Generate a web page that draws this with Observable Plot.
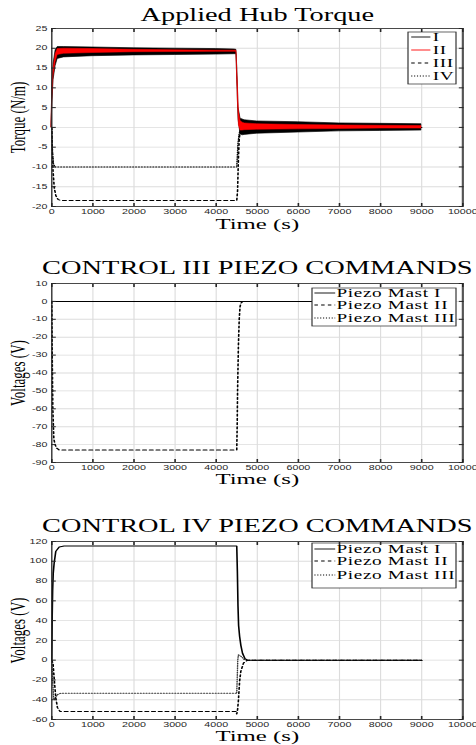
<!DOCTYPE html>
<html>
<head>
<meta charset="utf-8">
<script src="https://cdn.jsdelivr.net/npm/d3@7"></script>
<script src="https://cdn.jsdelivr.net/npm/@observablehq/plot@0.6"></script>
<style>
html,body{margin:0;padding:0;background:#fff;}
#root{position:relative;width:476px;height:745px;overflow:hidden;background:#fff;}
.panel{position:absolute;left:0;transform-origin:0 0;}
</style>
</head>
<body>
<div id="root"></div>
<script>
// ---------------- DATA ----------------
const xDomain = [0, 10000];
const xTicks = [0, 1000, 2000, 3000, 4000, 5000, 6000, 7000, 8000, 9000, 10000];

// Panel 1: Applied Hub Torque
const hubTitle = "Applied Hub Torque";
const hubYLabel = "Torque (N/m)";
const hubYDomain = [-20, 25];
const hubYTicks = [-20, -15, -10, -5, 0, 5, 10, 15, 20, 25];
const hubSeries = ["I", "II", "III", "IV"];
// I : noisy signal, drawn as its envelope (black)
const hubI_t  = [0, 20, 50, 100, 150, 300, 1000, 2000, 3000, 4000, 4450, 4500, 4520, 4550, 4600, 4650, 4700, 5000, 6000, 7000, 8000, 9000];
const hubI_hi = [0, 10, 16, 19.5, 20.3, 20.3, 20.2, 20.0, 19.9, 19.8, 19.7, 19.6, 15, 5, 2.2, 2.0, 1.8, 1.5, 1.3, 1.0, 0.9, 0.8];
const hubI_lo = [0, 6, 12, 15.5, 17.3, 17.7, 18.0, 18.2, 18.3, 18.4, 18.5, 18.5, 12, 2, -1.8, -2.0, -1.9, -1.6, -1.3, -1.0, -0.9, -0.8];
// II : noisy signal, envelope (red)
const hubII_t  = [0, 20, 50, 100, 150, 300, 1000, 2000, 3000, 4000, 4500, 4530, 4560, 4600, 4650, 4700, 5000, 6000, 7000, 8000, 9000];
const hubII_hi = [0, 10, 15, 18.5, 19.8, 19.9, 19.8, 19.6, 19.5, 19.4, 19.4, 12, 4, 1.6, 1.2, 1.0, 0.8, 0.6, 0.5, 0.4, 0.35];
const hubII_lo = [0, 7, 13, 16.5, 18.3, 18.6, 18.8, 19.0, 19.05, 19.1, 19.1, 8, 0.5, -0.8, -0.8, -0.7, -0.6, -0.5, -0.4, -0.3, -0.3];
// III : dashed
const hubIII_t = [0, 10, 30, 60, 100, 150, 220, 4500, 4520, 4540, 4560, 4580, 4600, 4650, 9000];
const hubIII_v = [0, -5, -11, -15.3, -17.3, -18.2, -18.5, -18.5, -16, -8, -3, -1.2, -0.5, 0, 0];
// IV : dotted
const hubIV_t = [0, 15, 40, 80, 4500, 4510, 4530, 4560, 4600, 4650, 9000];
const hubIV_v = [0, -6, -9.2, -10, -10, -8, -4, -1.5, -0.4, 0, 0];

// Panel 2: Control III piezo commands
const c3Title = "CONTROL III PIEZO COMMANDS";
const voltLabel = "Voltages (V)";
const c3YDomain = [-90, 10];
const c3YTicks = [-90, -80, -70, -60, -50, -40, -30, -20, -10, 0, 10];
const mastNames = ["Piezo Mast I", "Piezo Mast II", "Piezo Mast III"];
const c3I_t = [0, 9000];
const c3I_v = [0, 0];
const c3II_t = [0, 10, 25, 50, 80, 120, 180, 4500, 4510, 4520, 4540, 4560, 4580, 4600, 4650, 9000];
const c3II_v = [0, -30, -60, -77, -80, -82, -83, -83, -70, -50, -25, -10, -3, -1, 0, 0];
const c3III_t = [0, 9000];
const c3III_v = [0, 0];

// Panel 3: Control IV piezo commands
const c4Title = "CONTROL IV PIEZO COMMANDS";
const c4YDomain = [-60, 120];
const c4YTicks = [-60, -40, -20, 0, 20, 40, 60, 80, 100, 120];
const c4I_t = [0, 10, 20, 35, 57, 97, 180, 300, 4500, 4515, 4530, 4545, 4570, 4600, 4640, 4700, 4760, 9000];
const c4I_v = [0, 45, 70, 88, 98, 110, 114.5, 115.5, 115.5, 90, 55, 35, 24, 15, 7, 1.5, 0, 0];
const c4II_t = [0, 32, 57, 97, 138, 203, 4480, 4500, 4520, 4540, 4570, 4600, 4667, 4765, 9000];
const c4II_v = [0, -4, -18, -38, -48, -52, -52, -54.5, -50, -41, -21, -11, -2.7, 0, 0];
const c4III_t = [0, 20, 45, 60, 90, 150, 220, 4500, 4510, 4525, 4540, 4600, 4680, 4750, 9000];
const c4III_v = [0, -20, -38, -40, -37.5, -34.5, -33.5, -33.5, -20, 0, 5.5, 4, 0.7, 0, 0];

// ---------------- LAYOUT / STYLE ----------------
const S = 1.6;                 // horizontal stretch of the figure
const W = 476 / S;
const ML = 51 / S;
const MR = W - 462 / S;
const SERIF = "Liberation Serif, Times New Roman, serif";
const SANS = "Liberation Sans, Arial, sans-serif";
const DASH = "2.2,2";
const DOT = "0.7,1.1";
const fmt = d => String(d);

const line = (t, v) => t.map((x, i) => ({t: x, v: v[i]}));
const band = (t, lo, hi) => t.map((x, i) => ({t: x, lo: lo[i], hi: hi[i]}));

function legendMark(items, box) {
  return (index, scales, values, dims) => {
    const g = d3.create("svg:g");
    const right = dims.width - dims.marginRight - box.right;
    const left = right - box.width;
    g.append("rect")
      .attr("x", left).attr("y", box.top)
      .attr("width", box.width).attr("height", box.height)
      .attr("fill", "white").attr("stroke", "#262626").attr("stroke-width", 0.7);
    items.forEach((it, i) => {
      const y = box.rows[i];
      g.append("line")
        .attr("x1", left + box.l1).attr("x2", left + box.l2)
        .attr("y1", y).attr("y2", y)
        .attr("stroke", it.color).attr("stroke-width", 0.9)
        .attr("stroke-dasharray", it.dash || null);
      g.append("text")
        .attr("x", left + box.tx).attr("y", y).attr("dy", "0.35em")
        .attr("text-anchor", "start")
        .attr("font-family", SERIF).attr("font-size", box.fontSize)
        .attr("letter-spacing", box.spacing + "px")
        .attr("fill", "black")
        .text(it.name);
    });
    return g.node();
  };
}

function makePanel(cfg) {
  const plotH = cfg.plotH;
  const svg = Plot.plot({
    width: W,
    height: cfg.height,
    marginTop: 28,
    marginBottom: cfg.height - 28 - plotH,
    marginLeft: ML,
    marginRight: MR,
    x: {domain: xDomain},
    y: {domain: cfg.yDomain},
    style: {fontFamily: SANS, fontSize: "6.7px", background: "white", overflow: "visible", color: "#262626"},
    marks: [
      Plot.gridX(xTicks, {stroke: "#dcdcdc", strokeOpacity: 1, strokeWidth: 0.7}),
      Plot.gridY(cfg.yTicks, {stroke: "#dcdcdc", strokeOpacity: 1, strokeWidth: 0.9}),
      ...cfg.marks,
      legendMark(cfg.legendItems, cfg.legendBox),
      Plot.frame({stroke: "#262626", strokeWidth: 0.8}),
      Plot.ruleX([xDomain[1]], {stroke: "#555", strokeWidth: 1.3}),
      Plot.axisX(xTicks, {tickSize: 0, tickPadding: 3, tickFormat: fmt, label: null, fill: "#262626"}),
      Plot.axisX(xTicks, {tickSize: -3, tickFormat: () => "", label: null, stroke: "#262626"}),
      Plot.axisX(xTicks, {anchor: "top", tickSize: -3, tickFormat: () => "", label: null, stroke: "#262626"}),
      Plot.axisY(cfg.yTicks, {anchor: "left", tickSize: 0, tickPadding: 2.7, tickFormat: fmt, label: null, fill: "#262626"}),
      Plot.axisY(cfg.yTicks, {anchor: "left", tickSize: -3, tickFormat: () => "", label: null, stroke: "#262626"}),
      Plot.axisY(cfg.yTicks, {anchor: "right", tickSize: -3, tickFormat: () => "", label: null, stroke: "#262626"}),
      Plot.text([cfg.title], {text: d => d, frameAnchor: "top", dy: cfg.titleDy, textAnchor: "middle", lineAnchor: "middle", fontFamily: SERIF, fontSize: 18, fill: "black"}),
      Plot.text(["Time (s)"], {text: d => d, frameAnchor: "bottom", dy: cfg.xlabelDy, textAnchor: "middle", lineAnchor: "middle", fontFamily: SERIF, fontSize: 15.5, fill: "black"}),
      Plot.text([cfg.ylabel], {text: d => d, frameAnchor: "left", rotate: -90, dx: 11.25 - ML, textAnchor: "middle", lineAnchor: "middle", fontFamily: SERIF, fontSize: 13, fill: "black"})
    ]
  });
  // stretch title to the reference width
  d3.select(svg).selectAll("text").filter(function () { return this.textContent === cfg.title; })
    .attr("textLength", cfg.titleLen).attr("lengthAdjust", "spacingAndGlyphs");
  const div = document.createElement("div");
  div.className = "panel";
  div.style.top = cfg.top + "px";
  div.style.width = W + "px";
  div.style.transform = `scaleX(${S})`;
  div.appendChild(svg);
  document.getElementById("root").appendChild(div);
}

// Panel 1
makePanel({
  top: 0, height: 232, plotH: 178,
  yDomain: hubYDomain, yTicks: hubYTicks,
  title: hubTitle, titleDy: -13, titleLen: 146,
  xlabelDy: 17.5, ylabel: hubYLabel,
  marks: [
    Plot.line(line(hubIII_t, hubIII_v), {x: "t", y: "v", stroke: "black", strokeWidth: 1, strokeDasharray: DASH}),
    Plot.line(line(hubIV_t, hubIV_v), {x: "t", y: "v", stroke: "black", strokeWidth: 0.9, strokeDasharray: DOT}),
    Plot.areaY(band(hubI_t, hubI_lo, hubI_hi), {x: "t", y1: "lo", y2: "hi", fill: "black", stroke: "black", strokeWidth: 0.5}),
    Plot.areaY(band(hubII_t, hubII_lo, hubII_hi), {x: "t", y1: "lo", y2: "hi", fill: "#ff0000", stroke: "#ff0000", strokeWidth: 0.4})
  ],
  legendItems: [
    {name: hubSeries[0], color: "black"},
    {name: hubSeries[1], color: "#ff0000"},
    {name: hubSeries[2], color: "black", dash: DASH},
    {name: hubSeries[3], color: "black", dash: DOT}
  ],
  legendBox: {right: 3.75, width: 30, top: 32, height: 52, rows: [37, 50, 63, 76], l1: 2, l2: 14, tx: 15.4, fontSize: 12, spacing: 0.4}
});

// Panel 2
makePanel({
  top: 255, height: 234, plotH: 179,
  yDomain: c3YDomain, yTicks: c3YTicks,
  title: c3Title, titleDy: -15, titleLen: 269,
  xlabelDy: 17, ylabel: voltLabel,
  marks: [
    Plot.line(line(c3III_t, c3III_v), {x: "t", y: "v", stroke: "black", strokeWidth: 0.9, strokeDasharray: DOT}),
    Plot.line(line(c3II_t, c3II_v), {x: "t", y: "v", stroke: "black", strokeWidth: 1, strokeDasharray: DASH}),
    Plot.line(line(c3I_t, c3I_v), {x: "t", y: "v", stroke: "black", strokeWidth: 1})
  ],
  legendItems: [
    {name: mastNames[0], color: "black"},
    {name: mastNames[1], color: "black", dash: DASH},
    {name: mastNames[2], color: "black", dash: DOT}
  ],
  legendBox: {right: 3.75, width: 90, top: 33, height: 38, rows: [38, 50, 63], l1: 1.5, l2: 14.5, tx: 15.3, fontSize: 12, spacing: 0.4}
});

// Panel 3
makePanel({
  top: 513, height: 232, plotH: 178,
  yDomain: c4YDomain, yTicks: c4YTicks,
  title: c4Title, titleDy: -15, titleLen: 269,
  xlabelDy: 16.5, ylabel: voltLabel,
  marks: [
    Plot.line(line(c4III_t, c4III_v), {x: "t", y: "v", stroke: "#333", strokeWidth: 0.9, strokeDasharray: DOT}),
    Plot.line(line(c4II_t, c4II_v), {x: "t", y: "v", stroke: "black", strokeWidth: 1, strokeDasharray: DASH}),
    Plot.line(line(c4I_t, c4I_v), {x: "t", y: "v", stroke: "black", strokeWidth: 1})
  ],
  legendItems: [
    {name: mastNames[0], color: "black"},
    {name: mastNames[1], color: "black", dash: DASH},
    {name: mastNames[2], color: "black", dash: DOT}
  ],
  legendBox: {right: 3.75, width: 90, top: 30, height: 45, rows: [36, 48, 62], l1: 1.5, l2: 14.5, tx: 15.3, fontSize: 12, spacing: 0.4}
});
</script>
</body>
</html>
